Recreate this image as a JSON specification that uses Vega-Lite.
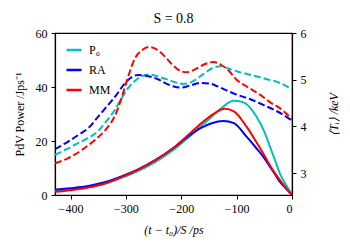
{
  "$schema": "https://vega.github.io/schema/vega-lite/v6.json",
  "width": 237,
  "height": 162,
  "autosize": {"type": "none"},
  "padding": {"left": 55, "top": 33, "right": 58, "bottom": 55},
  "background": "white",
  "title": {"text": "S = 0.8", "font": "Liberation Serif", "fontSize": 14, "fontWeight": "normal", "color": "black", "offset": 1},
  "config": {
    "view": {"stroke": "black", "strokeWidth": 1.2},
    "axis": {
      "grid": false,
      "domainColor": "black",
      "domainWidth": 1.2,
      "tickColor": "black",
      "tickSize": 4,
      "labelFont": "Liberation Serif",
      "labelFontSize": 12,
      "labelColor": "black",
      "titleFont": "Liberation Serif",
      "titleFontSize": 12,
      "titleFontWeight": "normal",
      "titleColor": "black"
    },
    "legend": {"labelFont": "Liberation Serif", "labelFontSize": 12, "labelColor": "black"}
  },
  "datasets": {
    "power": [
      {"series": "P₀", "t": -428, "v": 1.5}, {"series": "P₀", "t": -400, "v": 2.0}, {"series": "P₀", "t": -368, "v": 2.9},
      {"series": "P₀", "t": -340, "v": 4.1}, {"series": "P₀", "t": -308, "v": 6.4}, {"series": "P₀", "t": -278, "v": 8.9},
      {"series": "P₀", "t": -248, "v": 12.1}, {"series": "P₀", "t": -215, "v": 16.6}, {"series": "P₀", "t": -197, "v": 19.6},
      {"series": "P₀", "t": -180, "v": 22.6}, {"series": "P₀", "t": -166, "v": 25.2}, {"series": "P₀", "t": -145, "v": 29.0},
      {"series": "P₀", "t": -125, "v": 32.6}, {"series": "P₀", "t": -106, "v": 34.9}, {"series": "P₀", "t": -90, "v": 34.5},
      {"series": "P₀", "t": -75, "v": 32.2}, {"series": "P₀", "t": -64, "v": 29.0}, {"series": "P₀", "t": -50, "v": 23.5},
      {"series": "P₀", "t": -40, "v": 18.0}, {"series": "P₀", "t": -30, "v": 12.5}, {"series": "P₀", "t": -22, "v": 8.0},
      {"series": "P₀", "t": -10, "v": 3.4}, {"series": "P₀", "t": 0, "v": 0},
      {"series": "RA", "t": -428, "v": 2.0}, {"series": "RA", "t": -400, "v": 2.5}, {"series": "RA", "t": -368, "v": 3.3},
      {"series": "RA", "t": -340, "v": 4.6}, {"series": "RA", "t": -308, "v": 6.9}, {"series": "RA", "t": -278, "v": 9.5},
      {"series": "RA", "t": -248, "v": 12.8}, {"series": "RA", "t": -215, "v": 17.3}, {"series": "RA", "t": -197, "v": 20.2},
      {"series": "RA", "t": -180, "v": 22.8}, {"series": "RA", "t": -166, "v": 24.7}, {"series": "RA", "t": -145, "v": 26.6},
      {"series": "RA", "t": -124, "v": 27.4}, {"series": "RA", "t": -105, "v": 26.6}, {"series": "RA", "t": -82, "v": 21.6},
      {"series": "RA", "t": -65, "v": 17.5}, {"series": "RA", "t": -52, "v": 14.2}, {"series": "RA", "t": -40, "v": 10.5},
      {"series": "RA", "t": -30, "v": 7.5}, {"series": "RA", "t": -22, "v": 4.9}, {"series": "RA", "t": -10, "v": 2.2},
      {"series": "RA", "t": 0, "v": 0},
      {"series": "MM", "t": -428, "v": 1.2}, {"series": "MM", "t": -400, "v": 1.8}, {"series": "MM", "t": -368, "v": 2.8},
      {"series": "MM", "t": -340, "v": 4.1}, {"series": "MM", "t": -308, "v": 6.6}, {"series": "MM", "t": -278, "v": 9.3},
      {"series": "MM", "t": -248, "v": 12.7}, {"series": "MM", "t": -215, "v": 17.3}, {"series": "MM", "t": -197, "v": 20.5},
      {"series": "MM", "t": -180, "v": 23.6}, {"series": "MM", "t": -166, "v": 26.2}, {"series": "MM", "t": -145, "v": 29.6},
      {"series": "MM", "t": -121, "v": 31.9}, {"series": "MM", "t": -105, "v": 31.0}, {"series": "MM", "t": -82, "v": 25.3},
      {"series": "MM", "t": -65, "v": 19.8}, {"series": "MM", "t": -52, "v": 15.4},
      {"series": "MM", "t": -40, "v": 11.0}, {"series": "MM", "t": -30, "v": 7.8}, {"series": "MM", "t": -22, "v": 5.6},
      {"series": "MM", "t": -10, "v": 2.4}, {"series": "MM", "t": 0, "v": 0}
    ],
    "temp": [
      {"series": "P₀", "t": -428, "v": 3.39}, {"series": "P₀", "t": -404, "v": 3.53}, {"series": "P₀", "t": -380, "v": 3.68},
      {"series": "P₀", "t": -368, "v": 3.75}, {"series": "P₀", "t": -350, "v": 3.90}, {"series": "P₀", "t": -338, "v": 4.07},
      {"series": "P₀", "t": -320, "v": 4.35}, {"series": "P₀", "t": -308, "v": 4.60}, {"series": "P₀", "t": -296, "v": 4.82},
      {"series": "P₀", "t": -284, "v": 4.97}, {"series": "P₀", "t": -270, "v": 5.08}, {"series": "P₀", "t": -257, "v": 5.11},
      {"series": "P₀", "t": -240, "v": 5.06}, {"series": "P₀", "t": -224, "v": 5.00}, {"series": "P₀", "t": -210, "v": 4.94},
      {"series": "P₀", "t": -196, "v": 4.91}, {"series": "P₀", "t": -180, "v": 4.96}, {"series": "P₀", "t": -160, "v": 5.12},
      {"series": "P₀", "t": -145, "v": 5.24}, {"series": "P₀", "t": -130, "v": 5.29}, {"series": "P₀", "t": -115, "v": 5.24},
      {"series": "P₀", "t": -100, "v": 5.18}, {"series": "P₀", "t": -70, "v": 5.09}, {"series": "P₀", "t": -45, "v": 5.01},
      {"series": "P₀", "t": -22, "v": 4.93}, {"series": "P₀", "t": 0, "v": 4.79},
      {"series": "RA", "t": -428, "v": 3.51}, {"series": "RA", "t": -405, "v": 3.67}, {"series": "RA", "t": -380, "v": 3.86},
      {"series": "RA", "t": -368, "v": 3.96}, {"series": "RA", "t": -350, "v": 4.21}, {"series": "RA", "t": -332, "v": 4.46},
      {"series": "RA", "t": -318, "v": 4.66}, {"series": "RA", "t": -302, "v": 4.92}, {"series": "RA", "t": -290, "v": 5.05},
      {"series": "RA", "t": -278, "v": 5.10}, {"series": "RA", "t": -262, "v": 5.08}, {"series": "RA", "t": -242, "v": 5.01},
      {"series": "RA", "t": -228, "v": 4.92}, {"series": "RA", "t": -215, "v": 4.86}, {"series": "RA", "t": -202, "v": 4.83},
      {"series": "RA", "t": -185, "v": 4.87}, {"series": "RA", "t": -165, "v": 4.93}, {"series": "RA", "t": -150, "v": 4.92},
      {"series": "RA", "t": -135, "v": 4.86}, {"series": "RA", "t": -120, "v": 4.78}, {"series": "RA", "t": -100, "v": 4.68},
      {"series": "RA", "t": -75, "v": 4.58}, {"series": "RA", "t": -52, "v": 4.46}, {"series": "RA", "t": -30, "v": 4.34},
      {"series": "RA", "t": -16, "v": 4.25}, {"series": "RA", "t": 0, "v": 4.12},
      {"series": "MM", "t": -428, "v": 3.21}, {"series": "MM", "t": -404, "v": 3.32}, {"series": "MM", "t": -380, "v": 3.49},
      {"series": "MM", "t": -356, "v": 3.71}, {"series": "MM", "t": -335, "v": 3.95}, {"series": "MM", "t": -320, "v": 4.22},
      {"series": "MM", "t": -308, "v": 4.60}, {"series": "MM", "t": -296, "v": 5.06}, {"series": "MM", "t": -284, "v": 5.45},
      {"series": "MM", "t": -270, "v": 5.64}, {"series": "MM", "t": -257, "v": 5.70}, {"series": "MM", "t": -243, "v": 5.64},
      {"series": "MM", "t": -230, "v": 5.50}, {"series": "MM", "t": -215, "v": 5.31}, {"series": "MM", "t": -200, "v": 5.18},
      {"series": "MM", "t": -190, "v": 5.16}, {"series": "MM", "t": -175, "v": 5.22}, {"series": "MM", "t": -158, "v": 5.33},
      {"series": "MM", "t": -142, "v": 5.38}, {"series": "MM", "t": -128, "v": 5.32}, {"series": "MM", "t": -115, "v": 5.20},
      {"series": "MM", "t": -100, "v": 5.00}, {"series": "MM", "t": -80, "v": 4.84}, {"series": "MM", "t": -58, "v": 4.68},
      {"series": "MM", "t": -40, "v": 4.52}, {"series": "MM", "t": -22, "v": 4.39}, {"series": "MM", "t": -10, "v": 4.27},
      {"series": "MM", "t": 0, "v": 4.15}
    ]
  },
  "layer": [
    {
      "data": {"name": "power"},
      "mark": {"type": "line", "strokeWidth": 2, "interpolate": "monotone", "clip": true},
      "encoding": {
        "x": {"field": "t", "type": "quantitative", "scale": {"domain": [-428, 0], "nice": false, "zero": false},
              "axis": {"values": [-400, -300, -200, -100, 0], "title": "(t − t₀)/S    /ps", "titleFontStyle": "italic", "labelPadding": 4, "titlePadding": 10}},
        "y": {"field": "v", "type": "quantitative", "scale": {"domain": [0, 60], "nice": false},
              "axis": {"orient": "left", "values": [0, 20, 40, 60], "title": "PdV Power /Jps⁻¹", "labelPadding": 4, "titlePadding": 9}},
        "color": {"field": "series", "type": "nominal",
                  "scale": {"domain": ["P₀", "RA", "MM"], "range": ["#00bfbf", "#0000ff", "#ff0000"]},
                  "legend": {"orient": "none", "legendX": 10, "legendY": 8, "title": null, "symbolType": "stroke",
                             "symbolSize": 225, "symbolStrokeWidth": 2.5, "symbolDash": [1, 0], "labelOffset": 6,
                             "rowPadding": 5, "padding": 0}}
      }
    },
    {
      "data": {"name": "temp"},
      "mark": {"type": "line", "strokeWidth": 2, "strokeDash": [7, 3], "interpolate": "monotone", "clip": true},
      "encoding": {
        "x": {"field": "t", "type": "quantitative"},
        "y": {"field": "v", "type": "quantitative", "scale": {"domain": [2.53, 6], "nice": false, "zero": false},
              "axis": {"orient": "right", "values": [3, 4, 5, 6], "title": "⟨Tᵢ⟩ /keV", "titleFontStyle": "italic", "titleAngle": -90, "titleBaseline": "top", "labelPadding": 4, "titlePadding": 22}},
        "color": {"field": "series", "type": "nominal"}
      }
    }
  ],
  "resolve": {"scale": {"y": "independent"}}
}
